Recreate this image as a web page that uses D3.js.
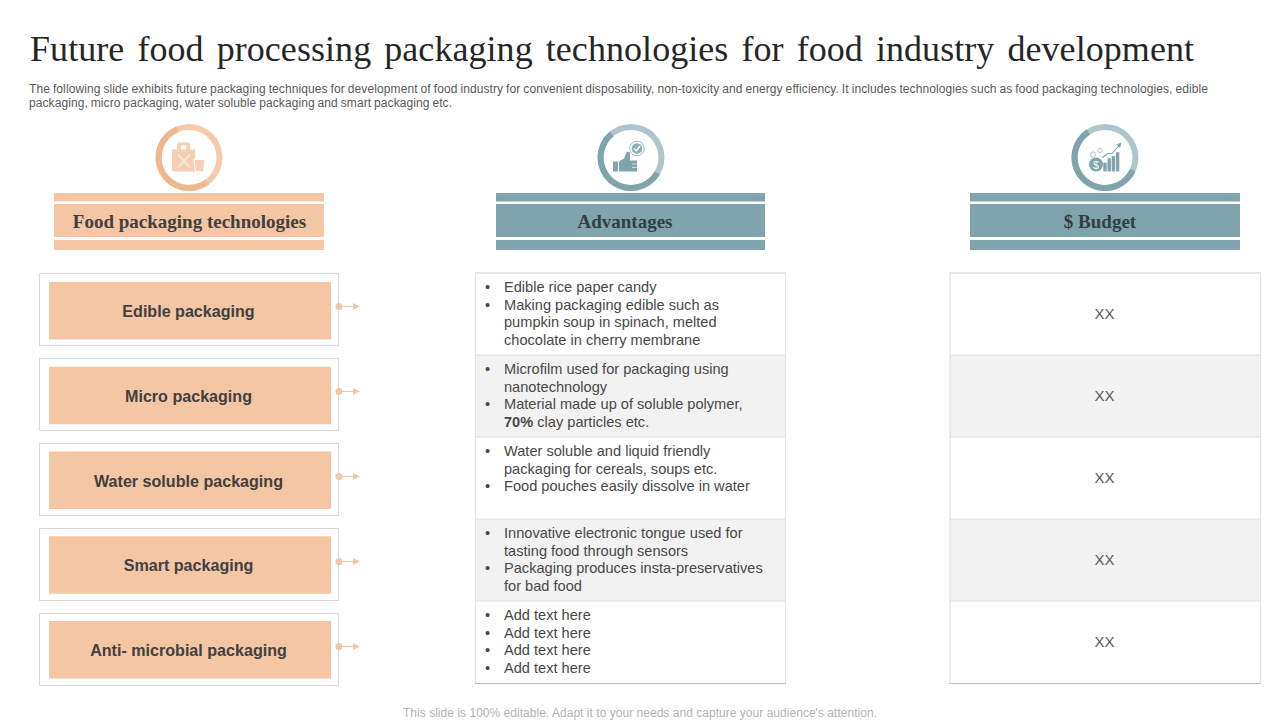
<!DOCTYPE html>
<html>
<head>
<meta charset="UTF-8">
<title>Future food processing packaging technologies</title>
<script src="https://d3js.org/d3.v7.min.js"></script>
<style>
  html, body { margin: 0; padding: 0; background: #fff; }
  svg { display: block; }
</style>
</head>
<body>
<script>
var titleText = "Future food processing packaging technologies for food industry development";
var introLines = [
  "The following slide exhibits future packaging techniques for development of food industry for convenient disposability, non-toxicity and energy efficiency. It includes technologies such as food packaging technologies, edible",
  "packaging, micro packaging, water soluble packaging and smart packaging etc."
];
var footerText = "This slide is 100% editable. Adapt it to your needs and capture your audience's attention.";

var headers = ["Food packaging technologies", "Advantages", "$ Budget"];
var technologies = ["Edible packaging", "Micro packaging", "Water soluble packaging", "Smart packaging", "Anti- microbial packaging"];
var budgets = ["XX", "XX", "XX", "XX", "XX"];
// each line: [has bullet, text, optional bold start]
var advantages = [
  [[1, "Edible rice paper candy"], [1, "Making packaging edible such as"], [0, "pumpkin soup in spinach, melted"], [0, "chocolate in cherry membrane"]],
  [[1, "Microfilm used for packaging using"], [0, "nanotechnology"], [1, "Material made up of soluble polymer,"], [0, " clay particles etc.", "70%"]],
  [[1, "Water soluble and liquid friendly"], [0, "packaging for cereals, soups etc."], [1, "Food pouches easily dissolve in water"]],
  [[1, "Innovative electronic tongue used for"], [0, "tasting food through sensors"], [1, "Packaging produces insta-preservatives"], [0, "for bad food"]],
  [[1, "Add text here"], [1, "Add text here"], [1, "Add text here"], [1, "Add text here"]]
];

var peach = "#f4c6a4", teal = "#7fa4ab", dark = "#404040", bodyText = "#484848";
var sans = "'Liberation Sans', Arial, sans-serif", serif = "'Liberation Serif', 'Times New Roman', serif";

var svg = d3.select("body").append("svg").attr("width", 1280).attr("height", 720);

//title and intro
svg.append("text").text(titleText)
  .attr("x", 30).attr("y", 61)
  .attr("textLength", 1164).attr("lengthAdjust", "spacing")
  .style("font-family", serif).style("font-size", "36px").style("word-spacing", "4px").attr("fill", "#262626");

svg.selectAll(".intro").data(introLines).enter().append("text")
  .text(d => d)
  .attr("x", 29).attr("y", (d, i) => 93 + i * 13.5)
  .attr("textLength", (d, i) => i == 0 ? 1179 : 423).attr("lengthAdjust", "spacing")
  .style("font-family", sans).style("font-size", "12px").style("word-spacing", "-0.5px").attr("fill", "#595959");

svg.append("text").text(footerText)
  .attr("x", 403).attr("y", 717)
  .attr("textLength", 474).attr("lengthAdjust", "spacing")
  .style("font-family", sans).style("font-size", "12px").attr("fill", "#b3b3b3");

//scales
var rowY = d3.scaleBand().domain(d3.range(5)).range([273, 698]);
var innerY = d3.scaleBand().domain(d3.range(5)).range([282, 705.75]);
var tableY = d3.scaleBand().domain(d3.range(5)).range([273, 683]);

//column headers
var headerCols = [
  {x: 54, w: 270, c: peach, ring1: "#f5cbac", ring2: "#eeb88f", cx: 189, labelX: 189.5, text: "#404040", arc: [2.5, 5.9]},
  {x: 496, w: 269, c: teal, ring1: "#aec6cb", ring2: "#7fa4ab", cx: 631, labelX: 625, text: "#2f3f42", arc: [2.1, 5.6]},
  {x: 970, w: 270, c: teal, ring1: "#aec6cb", ring2: "#7fa4ab", cx: 1105, labelX: 1100, text: "#2f3f42", arc: [2.0, 5.7]}
];
var ringArc = d3.arc().innerRadius(27.5).outerRadius(33.5);

headerCols.forEach((h, i) => {
  var g = svg.append("g");
  g.append("rect").attr("x", h.x).attr("y", 193).attr("width", h.w).attr("height", 8.5).attr("fill", h.c);
  g.append("rect").attr("x", h.x).attr("y", 204).attr("width", h.w).attr("height", 33).attr("fill", h.c);
  g.append("rect").attr("x", h.x).attr("y", 240).attr("width", h.w).attr("height", 10).attr("fill", h.c);
  g.append("text").text(headers[i])
    .attr("x", h.labelX).attr("y", 228).attr("text-anchor", "middle")
    .style("font-family", serif).style("font-size", "19px").style("font-weight", "bold").attr("fill", h.text);

  //icon ring
  var ring = g.append("g").attr("transform", `translate(${h.cx},157.5)`);
  ring.append("path").attr("d", ringArc({startAngle: 0, endAngle: 2 * Math.PI})).attr("fill", h.ring1);
  ring.append("path").attr("d", ringArc({startAngle: h.arc[0], endAngle: h.arc[1]})).attr("fill", h.ring2);
});

//icon: food box and cup
var boxIcon = svg.append("g").attr("transform", "translate(189,157.5)").attr("fill", "#f6d0b4");
boxIcon.append("path").attr("d", "M-17,-8 L-12,-8 L-12,-13 Q-12,-15 -10,-15 L-1,-15 Q1,-15 1,-13 L1,-8 L6,-8 L6,14 L-17,14 Z");
boxIcon.append("path").attr("d", "M-8,-8 L-8,-12 L-3,-12 L-3,-8 Z").attr("fill", "#fff");
boxIcon.append("path").attr("d", "M-11,-3 L1,10 M1,-3 L-11,10").attr("stroke", "#fbe9dc").attr("stroke-width", 1.4).attr("fill", "none");
boxIcon.append("path").attr("d", "M5,2 L16,2 L14.5,14 L6.5,14 Z").attr("stroke", "#fff").attr("stroke-width", 1);

//icon: thumbs up with check badge
var thumbIcon = svg.append("g").attr("transform", "translate(631,157.5)");
thumbIcon.append("rect").attr("x", -18).attr("y", 4).attr("width", 5).attr("height", 10).attr("fill", teal);
thumbIcon.append("path").attr("d", "M-12,4 L-7,1 L-4,-6 L-1,-5 L-1,3 L6,3 L6,14 L-12,14 Z").attr("fill", teal);
thumbIcon.append("path").attr("d", "M1,6.5 L6,6.5 M1,10 L6,10").attr("stroke", "#fff").attr("stroke-width", 0.6);
thumbIcon.append("circle").attr("cx", 6).attr("cy", -9).attr("r", 7.3).attr("fill", "#fff").attr("stroke", "#9dbac0");
thumbIcon.append("circle").attr("cx", 6).attr("cy", -9).attr("r", 5.3).attr("fill", "#8fb0b6");
thumbIcon.append("path").attr("d", "M3,-9 L5.3,-6.5 L9,-11.5").attr("fill", "none").attr("stroke", "#fff").attr("stroke-width", 1.4);

//icon: money and rising bars
var moneyIcon = svg.append("g").attr("transform", "translate(1105,157.5)");
moneyIcon.selectAll("rect").data([[-1.7, 5.2], [2.5, 0.8], [6.7, -1.5], [10.9, -5.2]]).enter().append("rect")
  .attr("x", d => d[0]).attr("y", d => d[1]).attr("width", 3.4).attr("height", d => 14 - d[1]).attr("fill", teal);
moneyIcon.append("circle").attr("cx", -9).attr("cy", 7).attr("r", 7).attr("fill", teal);
moneyIcon.append("text").text("$").attr("x", -9).attr("y", 11).attr("text-anchor", "middle")
  .style("font-family", sans).style("font-size", "10.5px").attr("fill", "#fff");
moneyIcon.append("circle").attr("cx", -12).attr("cy", -3).attr("r", 2.6).attr("fill", "none").attr("stroke", "#9dbac0").attr("stroke-width", 0.8);
moneyIcon.append("circle").attr("cx", -5).attr("cy", -7).attr("r", 2.2).attr("fill", "none").attr("stroke", "#9dbac0").attr("stroke-width", 0.8);
moneyIcon.append("path").attr("d", "M-3,0 L3,-4 L7,-4 L15,-13").attr("fill", "none").attr("stroke", teal).attr("stroke-width", 1.1);
moneyIcon.append("path").attr("d", "M16.5,-15 L11.5,-13 L15,-9.5 Z").attr("fill", teal);

//left column
var techRows = svg.selectAll(".tech").data(technologies).enter().append("g");
techRows.append("rect").attr("x", 39.5).attr("y", (d, i) => rowY(i) + 0.5).attr("width", 299).attr("height", 72)
  .attr("fill", "#fff").attr("stroke", "#d9d9d9");
techRows.append("rect").attr("x", 49).attr("y", (d, i) => innerY(i)).attr("width", 282).attr("height", 57.5).attr("fill", peach);
techRows.append("text").text(d => d)
  .attr("x", 188.5).attr("y", (d, i) => innerY(i) + 35).attr("text-anchor", "middle")
  .style("font-family", sans).style("font-size", "16.1px").style("font-weight", "bold").attr("fill", dark);
var connector = techRows.append("g").attr("transform", (d, i) => `translate(0,${rowY(i) + 33.5})`);
connector.append("circle").attr("cx", 339).attr("r", 3.5).attr("fill", peach);
connector.append("line").attr("x1", 339).attr("x2", 355).attr("stroke", peach);
connector.append("path").attr("d", "M353,-3.5 L360,0 L353,3.5 Z").attr("fill", peach);

//middle and right tables
function drawTable(x, w, fn) {
  var rows = svg.selectAll(null).data(d3.range(5)).enter().append("g")
    .attr("transform", i => `translate(${x},${tableY(i)})`);
  rows.append("rect").attr("width", w).attr("height", tableY.bandwidth())
    .attr("fill", i => i % 2 ? "#f2f2f2" : "#fff");
  rows.append("line").attr("x1", 0).attr("x2", w).attr("y1", 0).attr("y2", 0).attr("stroke", "#e0e0e0");
  rows.each(fn);
  svg.append("rect").attr("x", x + 0.5).attr("y", 273).attr("width", w - 1).attr("height", 410.5)
    .attr("fill", "none").attr("stroke", "#e2e2e2");
  svg.append("line").attr("x1", x).attr("x2", x + w).attr("y1", 683.5).attr("y2", 683.5).attr("stroke", "#aec6cb");
}

drawTable(475, 311, function(i) {
  var lines = d3.select(this).selectAll("g").data(advantages[i]).enter().append("g")
    .attr("transform", (d, j) => `translate(0,${19 + j * 17.6})`);
  lines.filter(d => d[0]).append("text").text("•").attr("x", 10)
    .style("font-family", sans).style("font-size", "14.6px").attr("fill", bodyText);
  var label = lines.append("text").attr("x", 29)
    .style("font-family", sans).style("font-size", "14.6px").attr("fill", bodyText);
  label.filter(d => d[2]).append("tspan").style("font-weight", "bold").text(d => d[2]);
  label.append("tspan").text(d => d[1]);
});

drawTable(949.5, 311.5, function(i) {
  d3.select(this).append("text").text(budgets[i])
    .attr("x", 155).attr("y", 46).attr("text-anchor", "middle")
    .style("font-family", sans).style("font-size", "15px").attr("fill", "#595959");
});
</script>
</body>
</html>
